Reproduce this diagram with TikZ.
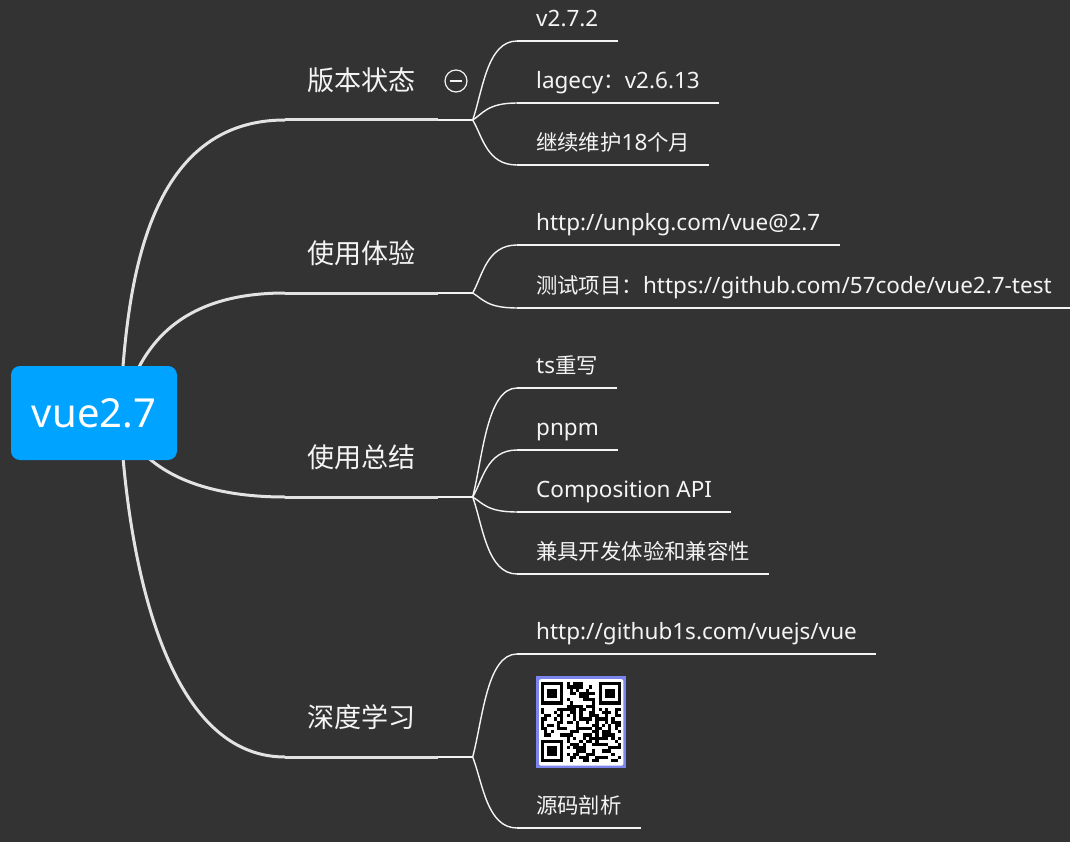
\documentclass[tikz,border=0pt]{standalone}
\usepackage{fontspec}
\setmainfont{Noto Sans}
\newfontfamily\cjk{Noto Sans CJK SC}[Scale=0.95]
\usepackage{tikz}
\usetikzlibrary{calc}
\definecolor{board}{HTML}{333333}
\definecolor{rootblue}{HTML}{00A3FF}
\definecolor{limbgray}{HTML}{E3E3E3}
\definecolor{ink}{HTML}{F4F4F4}
\definecolor{qrblue}{HTML}{7C84EE}
\pgfdeclarelayer{back}
\pgfdeclarelayer{wires}
\pgfsetlayers{back,wires,main}
\tikzset{
  limb/.style={limbgray, line width=3pt},
  twig/.style={ink, line width=1.4pt},
  topic/.style={anchor=south west, inner xsep=22pt, inner ysep=0pt, text height=25pt, text depth=29pt, text=ink, font=\fontsize{28.5}{34}\selectfont\cjk},
  leaf/.style={anchor=south west, inner xsep=19pt, inner ysep=0pt, text height=18pt, text depth=14pt, text=ink, font=\fontsize{22.5}{27}\selectfont},
}

\begin{document}
\begin{tikzpicture}[x=1pt, y=-1pt]
\useasboundingbox (0,0) rectangle (1070,842);
\begin{pgfonlayer}{back}
\fill[board] (0,0) rectangle (1070,842);
\end{pgfonlayer}
% root
\node[fill=rootblue, rounded corners=9pt, minimum width=166pt, minimum height=94pt, text=white, font=\fontsize{40}{48}\selectfont] (root) at (94,413) {vue2.7};
\coordinate (hub) at ([xshift=26pt]root.center);
% main topics
\node[topic] (b1) at (285,120) {版本状态};
\node[topic] (b2) at (285,293) {使用体验};
\node[topic] (b3) at (285,497) {使用总结};
\node[topic] (b4) at (285,757) {深度学习};
\begin{pgfonlayer}{wires}
\draw[limb] (hub) .. controls +(6,-113) and +(-145,0) .. (b1.south west);
\draw[limb] (hub) .. controls +(15,-40) and +(-130,0) .. (b2.south west);
\draw[limb] (hub) .. controls +(10,40) and +(-110,0) .. (b3.south west);
\draw[limb] (hub) .. controls +(6,130) and +(-125,0) .. (b4.south west);
\end{pgfonlayer}
\foreach \b in {b1,b2,b3,b4} {
  \draw[limb] (\b.south west) -- (\b.south east);
  \draw[twig] (\b.south east) -- ++(35,0) coordinate (\b j);
}
% fold button
\node[circle, draw=ink, line width=1.2pt, minimum size=22pt, inner sep=0pt] (fold) at (456,81) {};
\draw[ink, line width=1.2pt] ([xshift=6pt]fold.west) -- ([xshift=-6pt]fold.east);
% subtopics
\node[leaf] (c11) at (517,41) {v2.7.2};
\node[leaf] (c12) at (517,103) {lagecy{\cjk ：}v2.6.13};
\node[leaf] (c13) at (517,165) {{\cjk 继续维护}18{\cjk 个月}};
\node[leaf] (c21) at (517,245) {http://unpkg.com/vue@2.7};
\node[leaf] (c22) at (517,308) {{\cjk 测试项目：}https://github.com/57code/vue2.7-test};
\node[leaf] (c31) at (517,388) {ts{\cjk 重写}};
\node[leaf] (c32) at (517,450) {pnpm};
\node[leaf] (c33) at (517,512) {Composition API};
\node[leaf] (c34) at (517,574) {{\cjk 兼具开发体验和兼容性}};
\node[leaf] (c41) at (517,654) {http://github1s.com/vuejs/vue};
\node[leaf] (c42) at (517,828) {{\cjk 源码剖析}};
\foreach \c in {c11,c12,c13,c21,c22,c31,c32,c33,c34,c41,c42}
  \draw[twig] (\c.south west) -- (\c.south east);
\foreach \c/\k in {c11/-29, c12/-6, c13/17}
  \draw[twig] (b1j) .. controls +(10,\k) and +(-30,0) .. (\c.south west);
\foreach \c/\k in {c21/-18, c22/6}
  \draw[twig] (b2j) .. controls +(10,\k) and +(-30,0) .. (\c.south west);
\foreach \c/\k in {c31/-40, c32/-17, c33/6, c34/28}
  \draw[twig] (b3j) .. controls +(10,\k) and +(-30,0) .. (\c.south west);
\foreach \c/\k in {c41/-38, c42/26}
  \draw[twig] (b4j) .. controls +(10,\k) and +(-30,0) .. (\c.south west);
% qr picture
\node[fill=qrblue, minimum width=90pt, minimum height=92pt, inner sep=0pt, anchor=south west] (qr) at ([xshift=19pt, yshift=27pt]c42.north west) {};
\fill[white, rounded corners=2pt] ([xshift=3pt, yshift=-3pt]qr.north west) rectangle ([xshift=-3pt, yshift=3pt]qr.south east);
\begin{scope}[shift={(qr.north west)}]
\pgfmathsetseed{27}
\foreach \i in {0,...,24}
  \foreach \j in {0,...,24} {
    \pgfmathtruncatemacro\inpat{(\i<8 && \j<8) || (\i>16 && \j<8) || (\i<8 && \j>16)}
    \pgfmathtruncatemacro\bit{rnd<0.5}
    \ifnum\inpat=0 \ifnum\bit=1 \fill (5+3.2*\i, 6+3.2*\j) rectangle +(3.2,3.2); \fi\fi
  }
\foreach \fx/\fy in {0/0, 18/0, 0/18} {
  \fill ({5+3.2*\fx},{6+3.2*\fy}) rectangle +(22.4,22.4);
  \fill[white] ({5+3.2*(\fx+1)},{6+3.2*(\fy+1)}) rectangle +(16,16);
  \fill ({5+3.2*(\fx+2)},{6+3.2*(\fy+2)}) rectangle +(9.6,9.6);
}
\end{scope}
\end{tikzpicture}
\end{document}
